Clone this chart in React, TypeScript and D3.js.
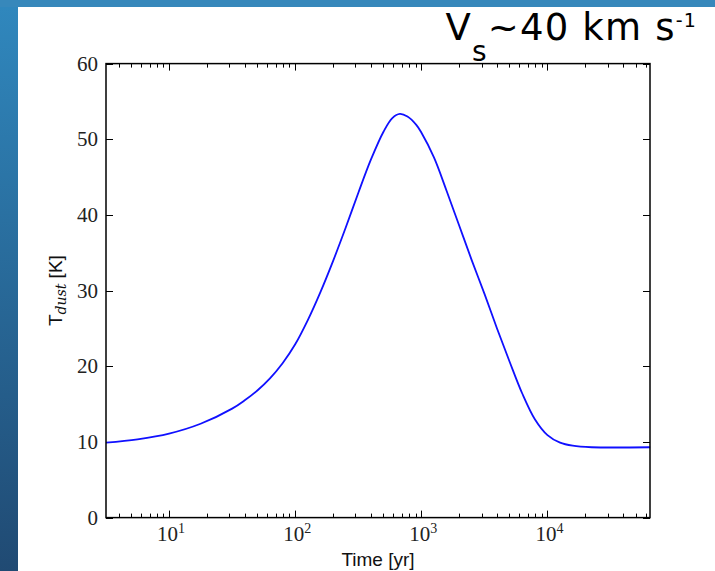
import React, { useEffect, useRef } from "react";
import * as d3 from "d3";

// Data: log10(time in yr) and dust temperature in K
const logTime = [0.5, 0.75, 1.0, 1.25, 1.5, 1.6, 1.7, 1.8, 1.9, 2.0, 2.1, 2.2, 2.3, 2.4, 2.5, 2.6, 2.7, 2.77, 2.83, 2.89, 2.96, 3.0, 3.1, 3.2, 3.3, 3.4, 3.5, 3.6, 3.7, 3.8, 3.9, 4.0, 4.1, 4.2, 4.35, 4.814];
const tDust = [9.9, 10.35, 11.1, 12.4, 14.4, 15.5, 16.8, 18.4, 20.4, 22.9, 26.1, 29.8, 33.9, 38.3, 42.9, 47.3, 51.0, 52.8, 53.35, 53.0, 51.9, 50.9, 47.6, 43.2, 38.6, 34.0, 29.6, 25.0, 20.6, 16.4, 13.0, 10.9, 9.9, 9.5, 9.3, 9.3];
const yTicks = [0, 10, 20, 30, 40, 50, 60];
const xMajorExp = [1, 2, 3, 4];
const xDomain = [Math.pow(10, 0.5), 65000];
const yDomain = [0, 60];

const W = 715, H = 571;
const L = 106, R = 650, T = 63.6, B = 517.6;

export default function App() {
  const ref = useRef<SVGSVGElement>(null);
  useEffect(() => {
    const svg = d3.select(ref.current);
    svg.selectAll("*").remove();
    const x = d3.scaleLog().domain(xDomain).range([L, R]);
    const y = d3.scaleLinear().domain(yDomain).range([B, T]);

    const defs = svg.append("defs");
    const g1 = defs.append("linearGradient").attr("id", "lg").attr("x1", 0).attr("y1", 0).attr("x2", 0).attr("y2", 1);
    g1.append("stop").attr("offset", 0).attr("stop-color", "#3088be");
    g1.append("stop").attr("offset", 1).attr("stop-color", "#204a73");

    svg.append("rect").attr("width", W).attr("height", H).attr("fill", "url(#lg)");
    svg.append("rect").attr("width", W).attr("height", 7).attr("fill", "#3788bb");
    svg.append("rect").attr("x", 18).attr("y", 7).attr("width", W - 18).attr("height", H - 7).attr("fill", "#ffffff");

    // ticks
    const tickG = svg.append("g").attr("stroke", "#000").attr("stroke-width", 1);
    yTicks.forEach((v) => {
      const yy = Math.round(y(v)) + 0.5;
      tickG.append("line").attr("x1", L).attr("x2", L + 7).attr("y1", yy).attr("y2", yy);
      tickG.append("line").attr("x1", R).attr("x2", R - 7).attr("y1", yy).attr("y2", yy);
    });
    const minor: number[] = [];
    for (let e = 0; e <= 4; e++) {
      for (let m = 1; m <= 9; m++) {
        const v = m * Math.pow(10, e);
        if (v >= xDomain[0] && v <= xDomain[1]) minor.push(v);
      }
    }
    minor.forEach((v) => {
      const isMajor = Math.abs(Math.log10(v) - Math.round(Math.log10(v))) < 1e-9;
      const len = isMajor ? 7 : 4;
      const xx = Math.round(x(v)) + 0.5;
      tickG.append("line").attr("x1", xx).attr("x2", xx).attr("y1", B).attr("y2", B - len);
      tickG.append("line").attr("x1", xx).attr("x2", xx).attr("y1", T).attr("y2", T + len);
    });

    // curve
    const pts = logTime.map((lt, i) => [Math.pow(10, lt), tDust[i]] as [number, number]);
    const line = d3.line<[number, number]>().x((d) => x(d[0])).y((d) => y(d[1])).curve(d3.curveCatmullRom.alpha(0.5));
    svg.append("path").attr("d", line(pts) as string).attr("fill", "none").attr("stroke", "#1010ff").attr("stroke-width", 1.8);

    // frame
    svg.append("rect").attr("x", L).attr("y", T).attr("width", R - L).attr("height", B - T)
      .attr("fill", "none").attr("stroke", "#000").attr("stroke-width", 1.5);

    // y tick labels
    const serif = "'DejaVu Serif', 'Liberation Serif', serif";
    yTicks.forEach((v) => {
      svg.append("text").attr("x", L - 8).attr("y", y(v) + 7).attr("text-anchor", "end")
        .attr("font-family", "'Liberation Serif', serif").attr("font-size", 21).attr("fill", "#222").text(String(v));
    });
    // x tick labels
    xMajorExp.forEach((e) => {
      const t = svg.append("text").attr("x", x(Math.pow(10, e)) + 2).attr("y", 541).attr("text-anchor", "middle")
        .attr("font-family", "'Liberation Serif', serif").attr("font-size", 21).attr("fill", "#222");
      t.append("tspan").text("10");
      t.append("tspan").attr("dy", -8).attr("font-size", 14).text(String(e));
    });

    // axis labels
    svg.append("text").attr("x", (L + R) / 2).attr("y", 566).attr("text-anchor", "middle")
      .attr("font-family", "'Liberation Sans', Arial, sans-serif").attr("font-size", 19).attr("fill", "#111").text("Time [yr]");
    const yl = svg.append("text").attr("transform", `translate(62,${(T + B) / 2}) rotate(-90)`).attr("text-anchor", "middle")
      .attr("font-family", "'Liberation Sans', Arial, sans-serif").attr("font-size", 19).attr("fill", "#111");
    yl.append("tspan").text("T");
    yl.append("tspan").attr("dy", 4).attr("font-size", 14).attr("font-style", "italic")
      .attr("font-family", serif).text("dust");
    yl.append("tspan").attr("dy", -4).text(" [K]");

    // title
    const tt = svg.append("text").attr("x", 697).attr("y", 40).attr("text-anchor", "end")
      .attr("font-family", "'DejaVu Sans', sans-serif").attr("font-size", 37).attr("letter-spacing", 1.2).attr("fill", "#000");
    tt.append("tspan").text("V");
    tt.append("tspan").attr("dy", 21).attr("font-size", 28).text("s");
    tt.append("tspan").attr("dy", -21).text("~40 km s");
    tt.append("tspan").attr("dy", -13).attr("font-size", 19).text("-1");
  }, []);
  return (
    <svg ref={ref} width={W} height={H} style={{ position: "fixed", left: 0, top: 0, display: "block" }} />
  );
}
